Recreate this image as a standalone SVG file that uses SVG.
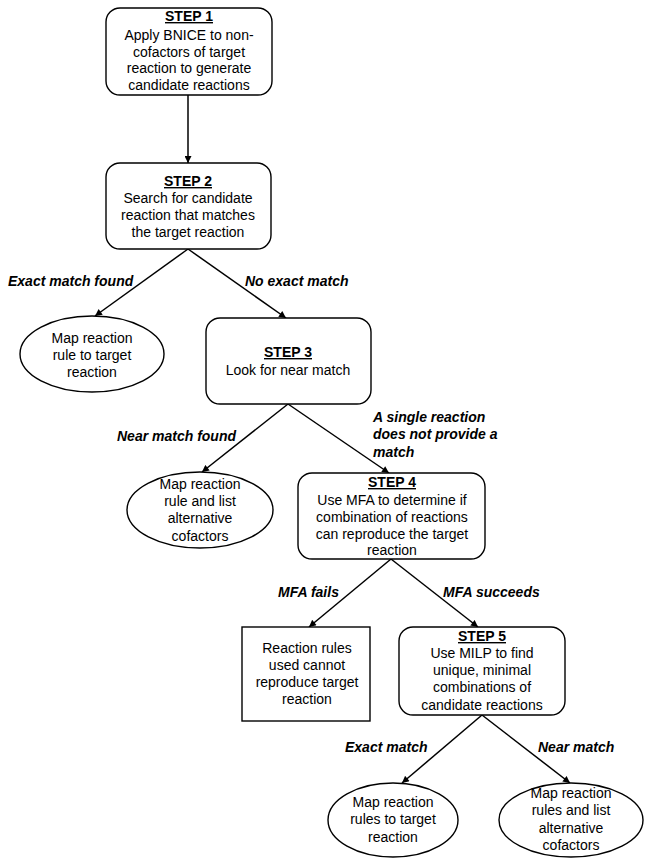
<svg xmlns="http://www.w3.org/2000/svg" width="652" height="866" viewBox="0 0 652 866">
<style>
.box{fill:#fff;stroke:#000;stroke-width:1.4}
.t{font-family:"Liberation Sans",Arial,sans-serif;font-size:14px;fill:#000;text-anchor:middle}
.h{font-weight:bold;text-decoration:underline}
.lbl{font-family:"Liberation Sans",Arial,sans-serif;font-size:14px;font-weight:bold;font-style:italic;fill:#000}
.c{stroke:#000;stroke-width:1.5;fill:none;marker-end:url(#ah)}
</style>
<defs>
<marker id="ah" viewBox="0 0 10 10" refX="10" refY="5" markerWidth="8" markerHeight="7" markerUnits="userSpaceOnUse" orient="auto">
<path d="M0,0 L10,5 L0,10 z" fill="#000"/>
</marker>
</defs>
<rect width="652" height="866" fill="#fff"/>
<g id="connectors">
<line class="c" x1="188" y1="95" x2="188" y2="163"/>
<line class="c" x1="188" y1="249" x2="95" y2="316"/>
<line class="c" x1="188" y1="249" x2="286" y2="318"/>
<line class="c" x1="288" y1="404" x2="202" y2="472"/>
<line class="c" x1="288" y1="404" x2="389" y2="473"/>
<line class="c" x1="391" y1="559" x2="309" y2="627"/>
<line class="c" x1="391" y1="559" x2="478" y2="627"/>
<line class="c" x1="482" y1="715" x2="402" y2="783"/>
<line class="c" x1="482" y1="715" x2="570" y2="783"/>
</g>
<g id="labels">
<text class="lbl" x="8" y="286">Exact match found</text>
<text class="lbl" x="245" y="286">No exact match</text>
<text class="lbl" x="117" y="441">Near match found</text>
<text class="lbl" x="373" y="422">A single reaction</text>
<text class="lbl" x="373" y="439">does not provide a</text>
<text class="lbl" x="373" y="457">match</text>
<text class="lbl" x="278" y="597">MFA fails</text>
<text class="lbl" x="443" y="597">MFA succeeds</text>
<text class="lbl" x="345" y="752">Exact match</text>
<text class="lbl" x="538" y="752">Near match</text>
</g>
<g id="step1">
<rect class="box" x="106" y="8" width="166" height="87" rx="14"/>
<text class="t h" x="189" y="21">STEP 1</text>
<text class="t" x="189" y="40">Apply BNICE to non-</text>
<text class="t" x="189" y="57">cofactors of target</text>
<text class="t" x="189" y="73">reaction to generate</text>
<text class="t" x="189" y="90">candidate reactions</text>
</g>
<g id="step2">
<rect class="box" x="106" y="163" width="165" height="86" rx="14"/>
<text class="t h" x="188" y="186">STEP 2</text>
<text class="t" x="188" y="203">Search for candidate</text>
<text class="t" x="188" y="220">reaction that matches</text>
<text class="t" x="188" y="237">the target reaction</text>
</g>
<g id="exact1">
<ellipse class="box" cx="92" cy="354" rx="72" ry="38"/>
<text class="t" x="92" y="343">Map reaction</text>
<text class="t" x="92" y="360">rule to target</text>
<text class="t" x="92" y="377">reaction</text>
</g>
<g id="step3">
<rect class="box" x="206" y="318" width="165" height="86" rx="14"/>
<text class="t h" x="288" y="357">STEP 3</text>
<text class="t" x="288" y="375">Look for near match</text>
</g>
<g id="near1">
<ellipse class="box" cx="200" cy="510" rx="73" ry="38"/>
<text class="t" x="200" y="489">Map reaction</text>
<text class="t" x="200" y="506">rule and list</text>
<text class="t" x="200" y="523">alternative</text>
<text class="t" x="200" y="541">cofactors</text>
</g>
<g id="step4">
<rect class="box" x="298" y="473" width="187" height="86" rx="14"/>
<text class="t h" x="392" y="487">STEP 4</text>
<text class="t" x="392" y="505">Use MFA to determine if</text>
<text class="t" x="392" y="522">combination of reactions</text>
<text class="t" x="392" y="539">can reproduce the target</text>
<text class="t" x="392" y="555">reaction</text>
</g>
<g id="fail">
<rect class="box" x="242" y="627" width="128" height="94"/>
<text class="t" x="307" y="653">Reaction rules</text>
<text class="t" x="307" y="670">used cannot</text>
<text class="t" x="307" y="687">reproduce target</text>
<text class="t" x="307" y="704">reaction</text>
</g>
<g id="step5">
<rect class="box" x="399" y="627" width="166" height="88" rx="14"/>
<text class="t h" x="482" y="641">STEP 5</text>
<text class="t" x="482" y="658">Use MILP to find</text>
<text class="t" x="482" y="675">unique, minimal</text>
<text class="t" x="482" y="692">combinations of</text>
<text class="t" x="482" y="710">candidate reactions</text>
</g>
<g id="exact2">
<ellipse class="box" cx="393" cy="820" rx="65" ry="37"/>
<text class="t" x="393" y="807">Map reaction</text>
<text class="t" x="393" y="824">rules to target</text>
<text class="t" x="393" y="842">reaction</text>
</g>
<g id="near2">
<ellipse class="box" cx="571" cy="820" rx="72" ry="37"/>
<text class="t" x="571" y="798">Map reaction</text>
<text class="t" x="571" y="815">rules and list</text>
<text class="t" x="571" y="833">alternative</text>
<text class="t" x="571" y="850">cofactors</text>
</g>
</svg>
